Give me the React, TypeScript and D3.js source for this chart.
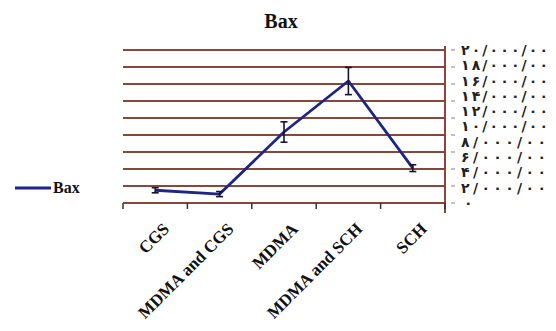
import React from "react";
import * as d3 from "d3";

const categories = ["CGS", "MDMA and CGS", "MDMA", "MDMA and SCH", "SCH"];
const values = [3.5, 3.05, 10.35, 16.35, 6.1];
const errors = [0.3, 0.3, 1.2, 1.6, 0.4];
const gridValues = [2, 4, 6, 8, 10, 12, 14, 16, 18, 20];
const labelValues = [0, 2, 4, 6, 8, 10, 12, 14, 16, 18, 20];
const labelTexts = [
  "۰",
  "۲/۰۰۰/۰۰",
  "۴/۰۰۰/۰۰",
  "۶/۰۰۰/۰۰",
  "۸/۰۰۰/۰۰",
  "۱۰/۰۰۰/۰۰",
  "۱۲/۰۰۰/۰۰",
  "۱۴/۰۰۰/۰۰",
  "۱۶/۰۰۰/۰۰",
  "۱۸/۰۰۰/۰۰",
  "۲۰/۰۰۰/۰۰",
];
const seriesName = "Bax";
const title = "Bax";

const W = 556;
const H = 331;
const left = 123;
const right = 445;
const top = 50;
const bottom = 203;

export default function App() {
  const x = d3.scaleBand<string>().domain(categories).range([left, right]);
  const y = d3.scaleLinear().domain([2, 20]).range([bottom, top]);
  const yLab = d3.scaleLinear().domain([0, 20]).range([bottom, top]);
  const cx = (c: string) => (x(c) as number) + x.bandwidth() / 2;
  const line = d3
    .line<number>()
    .x((_, i) => cx(categories[i]))
    .y((d) => y(d));
  const brown = "#87483a";
  const navy = "#1d2585";
  const serif = "'Liberation Serif', 'Times New Roman', serif";
  const bounds = categories.map((c) => x(c) as number).concat([right]);

  return (
    <svg
      width={W}
      height={H}
      style={{ position: "absolute", left: 0, top: 0, background: "#fff" }}
    >
      <text
        x={281}
        y={28}
        textAnchor="middle"
        fontFamily={serif}
        fontWeight="bold"
        fontSize={20}
        fill="#111"
      >
        {title}
      </text>
      {gridValues.map((v) => (
        <line
          key={v}
          x1={left}
          x2={right}
          y1={y(v)}
          y2={y(v)}
          stroke={brown}
          strokeWidth={v === 2 ? 2.2 : 1.8}
        />
      ))}
      <line x1={right} x2={right} y1={top - 4} y2={bottom + 10} stroke={brown} strokeWidth={2} />
      {gridValues.map((v) => (
        <line
          key={"t" + v}
          x1={right + 6}
          x2={right + 10}
          y1={y(v)}
          y2={y(v)}
          stroke="#999"
          strokeWidth={1.2}
        />
      ))}
      {bounds.map((b, i) => (
        <line
          key={"xt" + i}
          x1={b}
          x2={b}
          y1={bottom}
          y2={bottom + 6}
          stroke="#333"
          strokeWidth={1.5}
        />
      ))}
      {labelValues.map((v, i) => {
        const t = labelTexts[i];
        const n = Array.from(t).length;
        return (
          <text
            key={"l" + v}
            x={n > 1 ? 461 : 464}
            y={yLab(v)}
            dy="0.35em"
            fontFamily="'DejaVu Sans', sans-serif"
            fontWeight="bold"
            fontSize={14}
            textLength={n > 1 ? (n === 9 ? 87 : 85) : undefined}
            lengthAdjust="spacing"
            fill="#222"
          >
            {t}
          </text>
        );
      })}
      <path d={line(values) ?? ""} fill="none" stroke={navy} strokeWidth={2.8} strokeLinejoin="round" />
      {values.map((v, i) => {
        const xc = cx(categories[i]);
        return (
          <g key={"e" + i} stroke="#151530" strokeWidth={1.6}>
            <line x1={xc} x2={xc} y1={y(v - errors[i])} y2={y(v + errors[i])} />
            <line x1={xc - 3.5} x2={xc + 3.5} y1={y(v - errors[i])} y2={y(v - errors[i])} />
            <line x1={xc - 3.5} x2={xc + 3.5} y1={y(v + errors[i])} y2={y(v + errors[i])} />
          </g>
        );
      })}
      {categories.map((c) => (
        <text
          key={"c" + c}
          transform={`translate(${cx(c) + 15},${230}) rotate(-45)`}
          textAnchor="end"
          fontFamily={serif}
          fontWeight="bold"
          fontSize={17}
          fill="#111"
        >
          {c}
        </text>
      ))}
      <line x1={15} x2={51} y1={188} y2={188} stroke={navy} strokeWidth={2.8} />
      <text x={53} y={193} fontFamily={serif} fontWeight="bold" fontSize={16} fill="#111">
        {seriesName}
      </text>
    </svg>
  );
}
